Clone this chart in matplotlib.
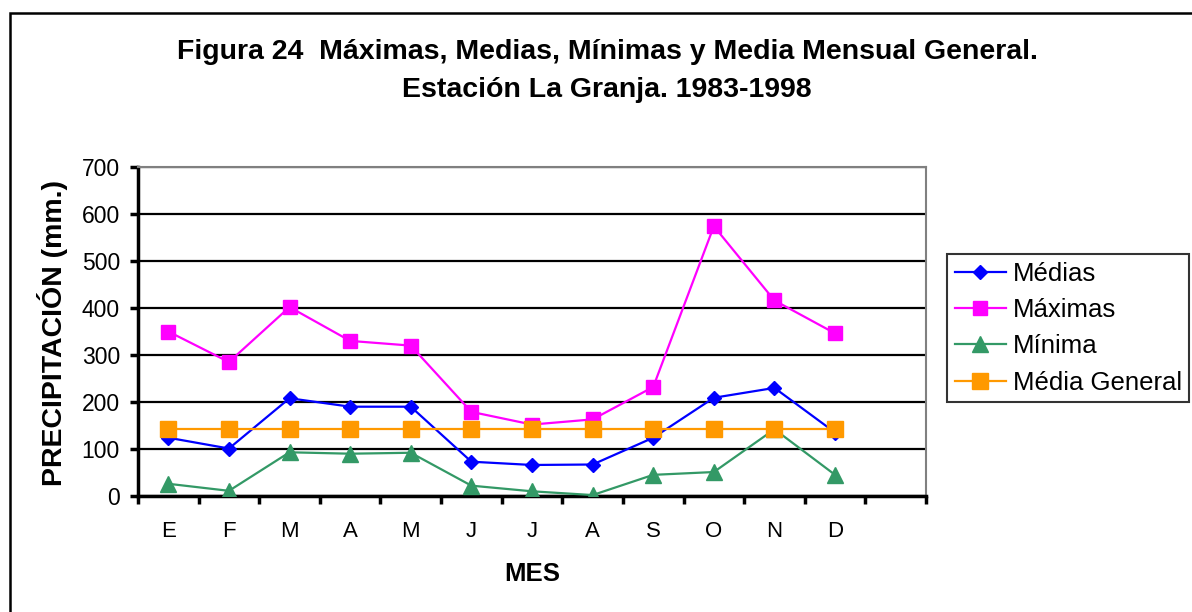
import numpy as np
import matplotlib
matplotlib.use('Agg')
import matplotlib.pyplot as plt
from matplotlib.patches import Rectangle
from matplotlib.ticker import FixedLocator, NullFormatter, FixedFormatter

plt.rcParams['font.family'] = ['Liberation Sans', 'DejaVu Sans']

meses = ['E', 'F', 'M', 'A', 'M', 'J', 'J', 'A', 'S', 'O', 'N', 'D']
medias = [124, 101, 208, 190, 190, 73, 66, 67, 124, 209, 230, 135]
maximas = [350, 285, 402, 330, 320, 179, 152, 163, 232, 574, 416, 346]
minima = [26, 11, 93, 90, 92, 22, 10, 2, 45, 51, 142, 45]
media_general = [143] * 12

fig = plt.figure(figsize=(11.92, 6.12), dpi=100)
ax = fig.add_axes([138 / 1192, 1 - 496 / 612, (926 - 138) / 1192, (496 - 167) / 612])

x = np.arange(len(meses)) + 0.5
ax.plot(x, medias, color='#0000FF', lw=1.6, marker='D', ms=7.5, label='Médias', zorder=3)
ax.plot(x, maximas, color='#FF00FF', lw=1.6, marker='s', ms=10.5, label='Máximas', zorder=3)
ax.plot(x, minima, color='#339966', lw=1.6, marker='^', ms=11, label='Mínima', zorder=3)
ax.plot(x, media_general, color='#FF9900', lw=1.6, marker='s', ms=12, label='Média General', zorder=4)

ax.set_xlim(0, 13)
ax.set_ylim(0, 700)
ax.set_yticks(np.arange(0, 701, 100))
ax.yaxis.grid(True, color='black', lw=1.6)
ax.set_axisbelow(True)

ax.xaxis.set_major_locator(FixedLocator(np.arange(0, 14)))
ax.xaxis.set_major_formatter(NullFormatter())
ax.xaxis.set_minor_locator(FixedLocator(x))
ax.xaxis.set_minor_formatter(FixedFormatter(meses))
ax.tick_params(axis='x', which='major', direction='out', length=6, width=2.5, color='black')
ax.tick_params(axis='x', which='minor', length=0, pad=18, labelsize=16)
ax.tick_params(axis='y', direction='out', length=6, width=2.5, pad=7, labelsize=16.5)

for s in ['left', 'bottom']:
    ax.spines[s].set_color('black')
    ax.spines[s].set_linewidth(2.5)
for s in ['top', 'right']:
    ax.spines[s].set_color('#808080')
    ax.spines[s].set_linewidth(1.5)

fig.text(607 / 1192, 1 - 71 / 612,
         'Figura 24  Máximas, Medias, Mínimas y Media Mensual General.\nEstación La Granja. 1983-1998',
         ha='center', va='center', fontsize=20.5, fontweight='bold', linespacing=1.6)
fig.text(52 / 1192, 1 - 333 / 612, 'PRECIPITACIÓN (mm.)', rotation=90,
         ha='center', va='center', fontsize=20.5, fontweight='bold')
fig.text(532 / 1192, 1 - 574 / 612, 'MES', ha='center', va='center',
         fontsize=18.5, fontweight='bold')

leg = fig.legend(loc='upper left', bbox_to_anchor=(947 / 1192, 1 - 254 / 612),
                 fontsize=18.5, frameon=True, fancybox=False, edgecolor='black',
                 handlelength=2.0, handletextpad=0.25, labelspacing=0.48,
                 borderpad=0.3, borderaxespad=0)
leg.get_frame().set_linewidth(1.5)

fig.patches.append(Rectangle((10 / 1192, -0.2), 1.2, 1.2 - 13 / 612,
                             transform=fig.transFigure, fill=False,
                             edgecolor='black', lw=1.8))

fig.savefig('out.png', dpi=100)
